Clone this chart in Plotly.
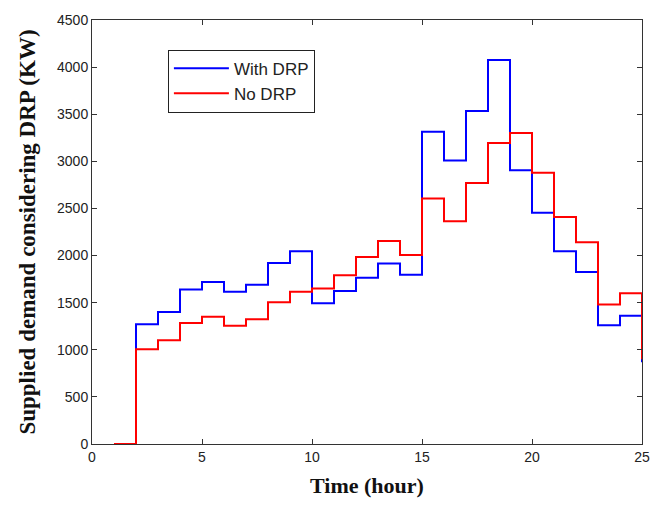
import plotly.graph_objects as go

hours = list(range(1, 26))
with_drp = [0, 1270, 1400, 1640, 1720, 1615, 1690, 1920, 2045, 1495, 1625, 1765,
            1915, 1795, 3315, 3010, 3535, 4075, 2905, 2455, 2045, 1825, 1260, 1360, 868]
no_drp = [0, 1005, 1100, 1285, 1350, 1255, 1325, 1505, 1615, 1650, 1790, 1985,
          2155, 2005, 2605, 2365, 2770, 3195, 3300, 2880, 2410, 2140, 1480, 1600, 900]
x_ticks = [0, 5, 10, 15, 20, 25]
y_ticks = list(range(0, 4501, 500))

fig = go.Figure()
fig.add_trace(go.Scatter(x=hours, y=with_drp, mode="lines", name="With DRP",
                         line=dict(color="#0000FF", width=2, shape="hv")))
fig.add_trace(go.Scatter(x=hours, y=no_drp, mode="lines", name="No DRP",
                         line=dict(color="#FF0000", width=2, shape="hv")))

axis_common = dict(showline=True, linecolor="#333333", linewidth=1, mirror="ticks",
                   ticks="inside", ticklen=5, tickcolor="#333333", showgrid=False,
                   zeroline=False,
                   tickfont=dict(family="Arial, Liberation Sans", size=14, color="#222222"))

fig.update_layout(
    width=664, height=505,
    margin=dict(l=92, r=22, t=15, b=61),
    paper_bgcolor="white", plot_bgcolor="white",
    xaxis=dict(range=[0, 25], tickvals=x_ticks,
               title=dict(text="<b>Time (hour)</b>", standoff=13,
                          font=dict(family="Liberation Serif, Times New Roman", size=22, color="#111111")),
               **axis_common),
    yaxis=dict(range=[0, 4500], tickvals=y_ticks,
               title=dict(text="<b>Supplied demand considering DRP (KW)</b>", standoff=14,
                          font=dict(family="Liberation Serif, Times New Roman", size=23, color="#111111")),
               **axis_common),
    legend=dict(x=0.138, y=0.93, xanchor="left", yanchor="top",
                bordercolor="#222222", borderwidth=1, bgcolor="white",
                font=dict(family="Arial, Liberation Sans", size=17, color="#222222"),
                itemwidth=55),
    showlegend=True,
)

fig.write_html("out.html")
